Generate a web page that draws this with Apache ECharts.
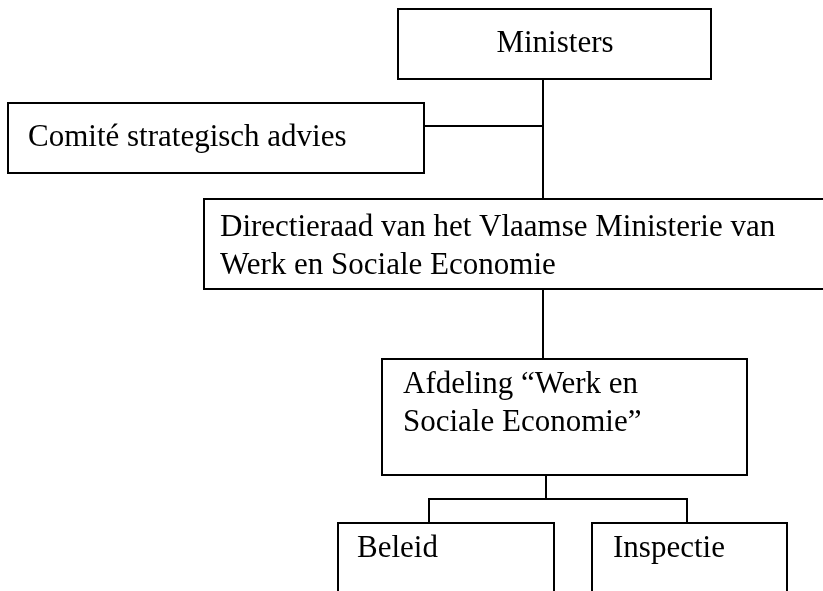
<!DOCTYPE html>
<html>
<head>
<meta charset="utf-8">
<script src="https://cdn.jsdelivr.net/npm/echarts@6/dist/echarts.min.js"></script>
<style>
  html, body { margin: 0; padding: 0; background: #fff; }
  #chart { width: 823px; height: 591px; }
</style>
</head>
<body>
<div id="chart"></div>
<script>
// organigram labels
const boxLabels = [
  'Ministers',
  'Comité strategisch advies',
  'Directieraad van het Vlaamse Ministerie van\nWerk en Sociale Economie',
  'Afdeling “Werk en\nSociale Economie”',
  'Beleid',
  'Inspectie'
]
// box corners in page pixels: [x0, y0, x1, y1]
const boxRects = [
  [398, 9, 711, 79],
  [8, 103, 424, 173],
  [204, 199, 840, 289],
  [382, 359, 747, 475],
  [338, 523, 554, 610],
  [592, 523, 787, 610]
]
// text anchor: [x, y of first line centre, align]
const textAnchors = [
  [555, 44, 'center'],
  [28, 138, 'left'],
  [220, 228, 'left'],
  [403, 385, 'left'],
  [357, 549, 'left'],
  [613, 549, 'left']
]
// connector polylines
const connectors = [
  [[543, 79], [543, 199]],
  [[424, 126], [543, 126]],
  [[543, 289], [543, 359]],
  [[546, 475], [546, 499]],
  [[429, 523], [429, 499], [687, 499], [687, 523]]
]

const FONT = '31px "Liberation Serif"'
const LINE_H = 38

const chart = echarts.init(document.getElementById('chart'))

chart.setOption({
  backgroundColor: '#fff',
  animation: false,
  grid: { left: 0, right: 0, top: 0, bottom: 0 },
  xAxis: { type: 'value', min: 0, max: 823, show: false },
  yAxis: { type: 'value', min: 0, max: 591, inverse: true, show: false },
  series: [
    {
      type: 'lines',
      coordinateSystem: 'cartesian2d',
      polyline: true,
      silent: true,
      z: 1,
      lineStyle: { color: '#000', width: 2, opacity: 1 },
      data: connectors.map(c => ({ coords: c }))
    },
    {
      type: 'custom',
      z: 2,
      silent: true,
      data: boxRects.map((r, i) => [r[0], r[1], r[2], r[3], textAnchors[i][0], textAnchors[i][1], i]),
      renderItem: (params, api) => {
        const i = api.value(6)
        const p0 = api.coord([api.value(0), api.value(1)])
        const p1 = api.coord([api.value(2), api.value(3)])
        const t = api.coord([api.value(4), api.value(5)])
        return {
          type: 'group',
          children: [
            {
              type: 'rect',
              shape: { x: p0[0], y: p0[1], width: p1[0] - p0[0], height: p1[1] - p0[1] },
              style: { fill: '#fff', stroke: '#000', lineWidth: 2 }
            },
            {
              type: 'text',
              style: {
                text: boxLabels[i],
                x: t[0],
                y: t[1] - LINE_H / 2,
                font: FONT,
                lineHeight: LINE_H,
                fill: '#000',
                align: textAnchors[i][2],
                verticalAlign: 'top'
              }
            }
          ]
        }
      }
    }
  ]
})
</script>
</body>
</html>
